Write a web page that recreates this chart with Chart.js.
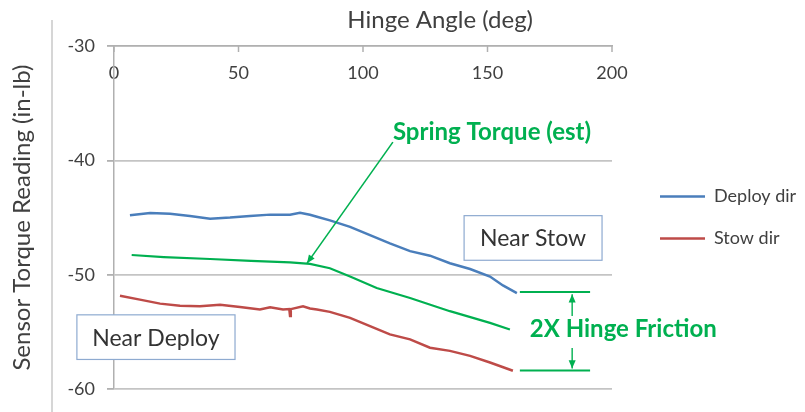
<!DOCTYPE html>
<html>
<head>
<meta charset="utf-8">
<script src="https://cdn.jsdelivr.net/npm/chart.js@4"></script>
<style>
  html, body { margin: 0; padding: 0; background: #fff; }
  #wrap { width: 805px; height: 412px; }
</style>
</head>
<body>
<div id="wrap"><canvas id="torqueChart"></canvas></div>
<script>
// values
const xTicks = [0, 50, 100, 150, 200];
const yTicks = [-30, -40, -50, -60];

const deployAngle  = [6.4, 14.5, 22.5, 30.5, 38.6, 46.6, 54.6, 62.7, 70.7, 74.7, 78.7, 81.5, 86.7, 94.8, 102.8, 110.8, 118.9, 126.9, 134.9, 143.0, 151.0, 156.2, 161.8];
const deployTorque = [-44.80, -44.60, -44.66, -44.86, -45.09, -45.00, -44.86, -44.74, -44.74, -44.57, -44.75, -44.92, -45.24, -45.81, -46.54, -47.26, -47.93, -48.33, -48.99, -49.49, -50.15, -50.93, -51.60];

const stowAngle  = [2.4, 10.4, 18.5, 26.5, 34.5, 42.6, 50.6, 58.6, 62.7, 67.9, 70.4, 70.7, 71.0, 75.9, 78.7, 81.5, 86.7, 94.8, 102.8, 110.8, 118.9, 126.9, 134.9, 143.0, 151.0, 160.2];
const stowTorque = [-51.83, -52.17, -52.52, -52.70, -52.75, -52.61, -52.81, -53.04, -52.84, -53.04, -53.00, -53.60, -53.00, -52.75, -52.95, -53.04, -53.24, -53.76, -54.48, -55.21, -55.64, -56.37, -56.65, -57.09, -57.67, -58.39];

const springAngle  = [7.1, 20, 38.6, 55, 70.7, 78.7, 86.7, 94.8, 105.5, 118.9, 134.9, 151.0, 159.0];
const springTorque = [-48.27, -48.45, -48.62, -48.78, -48.91, -49.05, -49.43, -50.15, -51.16, -52.03, -53.18, -54.20, -54.78];

const GREEN = '#00b050';
const TEXT = '#404040';
const AXIS = '#b0b0b0';
const FONT = 'Lato, "Open Sans", sans-serif';

function pairs(xs, ys) {
  return xs.map((v, i) => ({ x: v, y: ys[i] }));
}

function arrow(ctx, x1, y1, x2, y2) {
  const a = Math.atan2(y2 - y1, x2 - x1);
  ctx.beginPath();
  ctx.moveTo(x1, y1);
  ctx.lineTo(x2, y2);
  ctx.stroke();
  ctx.beginPath();
  ctx.moveTo(x2, y2);
  ctx.lineTo(x2 - 9 * Math.cos(a - 0.4), y2 - 9 * Math.sin(a - 0.4));
  ctx.lineTo(x2 - 9 * Math.cos(a + 0.4), y2 - 9 * Math.sin(a + 0.4));
  ctx.closePath();
  ctx.fill();
}

function textBox(ctx, px, py, x0, x1, y0, y1, label) {
  const l = px(x0), r = px(x1), t = py(y0), b = py(y1);
  ctx.fillStyle = '#fff';
  ctx.fillRect(l, t, r - l, b - t);
  ctx.strokeStyle = '#8eaad0';
  ctx.lineWidth = 1.2;
  ctx.strokeRect(l, t, r - l, b - t);
  ctx.fillStyle = '#333';
  ctx.font = '23px ' + FONT;
  ctx.textAlign = 'center';
  ctx.textBaseline = 'middle';
  ctx.fillText(label, (l + r) / 2, (t + b) / 2 + 1);
}

// callouts, boxes and the axis title, placed in data units
const notes = {
  id: 'notes',
  afterDatasetsDraw(chart) {
    const { ctx, chartArea } = chart;
    const xs = chart.scales.x, ys = chart.scales.y;
    const px = v => xs.getPixelForValue(v);
    const py = v => ys.getPixelForValue(v);
    ctx.save();

    // faint frame line on the far left
    ctx.strokeStyle = '#d6d6d6';
    ctx.lineWidth = 2;
    ctx.beginPath();
    ctx.moveTo(chartArea.left - 62, 20);
    ctx.lineTo(chartArea.left - 62, chart.height);
    ctx.stroke();

    // small tick marks hanging below the top axis
    ctx.strokeStyle = AXIS;
    ctx.lineWidth = 1.5;
    xTicks.forEach(v => {
      ctx.beginPath();
      ctx.moveTo(px(v), chartArea.top);
      ctx.lineTo(px(v), chartArea.top + 6);
      ctx.stroke();
    });

    // axis title
    ctx.fillStyle = TEXT;
    ctx.font = '24px ' + FONT;
    ctx.textAlign = 'center';
    ctx.textBaseline = 'middle';
    ctx.fillText('Hinge Angle (deg)', px(131), chartArea.top - 26);

    textBox(ctx, px, py, 140.6, 196, -44.83, -48.73, 'Near Stow');
    textBox(ctx, px, py, -14.9, 48.6, -53.5, -57.4, 'Near Deploy');

    ctx.strokeStyle = GREEN;
    ctx.fillStyle = GREEN;
    ctx.lineWidth = 1.6;
    arrow(ctx, px(112), py(-38.4), px(77.5), py(-49.0));

    ctx.lineWidth = 2;
    [-51.5, -58.36].forEach(v => {
      ctx.beginPath();
      ctx.moveTo(px(163), py(v));
      ctx.lineTo(px(191.2), py(v));
      ctx.stroke();
    });
    ctx.lineWidth = 1.4;
    arrow(ctx, px(184), py(-53.6), px(184), py(-51.7));
    arrow(ctx, px(184), py(-56.4), px(184), py(-58.2));

    ctx.font = 'bold 24px ' + FONT;
    ctx.textAlign = 'center';
    ctx.fillText('Spring Torque (est)', px(151.8), py(-37.55));
    ctx.textAlign = 'left';
    ctx.fillText('2X Hinge Friction', px(167), py(-54.8));

    ctx.restore();
  }
};

new Chart(document.getElementById('torqueChart'), {
  type: 'line',
  data: {
    datasets: [
      {
        label: 'Deploy dir',
        data: pairs(deployAngle, deployTorque),
        borderColor: '#4a7ebb',
        backgroundColor: '#4a7ebb',
        borderWidth: 2.5
      },
      {
        label: 'Stow dir',
        data: pairs(stowAngle, stowTorque),
        borderColor: '#be4b48',
        backgroundColor: '#be4b48',
        borderWidth: 2.5
      },
      {
        label: 'Spring Torque (est)',
        data: pairs(springAngle, springTorque),
        borderColor: GREEN,
        backgroundColor: GREEN,
        borderWidth: 2.2
      }
    ]
  },
  options: {
    responsive: true,
    maintainAspectRatio: false,
    animation: false,
    events: [],
    elements: { point: { radius: 0 }, line: { tension: 0 } },
    layout: { padding: { top: 0, right: 9, bottom: 20, left: 0 } },
    scales: {
      x: {
        type: 'linear',
        position: 'top',
        min: 0,
        max: 200,
        afterBuildTicks: s => { s.ticks = xTicks.map(v => ({ value: v })); },
        afterFit: s => { s.height = 46; },
        ticks: { mirror: true, padding: 16, color: TEXT, font: { family: FONT, size: 18 } },
        grid: { drawOnChartArea: false, drawTicks: false },
        border: { color: AXIS, width: 1.5 }
      },
      y: {
        min: -60,
        max: -30,
        afterBuildTicks: s => { s.ticks = yTicks.map(v => ({ value: v })); },
        afterFit: s => { s.width = 114; },
        ticks: { padding: 12, color: TEXT, font: { family: FONT, size: 18 } },
        grid: { color: '#c4c4c4', lineWidth: 1.8, tickLength: 7, tickColor: AXIS },
        border: { color: AXIS, width: 1.5 },
        title: {
          display: true,
          text: 'Sensor Torque Reading (in-lb)',
          color: TEXT,
          font: { family: FONT, size: 24 },
          padding: { top: 8, bottom: 0 }
        }
      },
      gap: {
        position: 'right',
        display: true,
        ticks: { display: false },
        grid: { display: false },
        border: { display: false },
        afterFit: s => { s.width = 24; }
      }
    },
    plugins: {
      legend: {
        position: 'right',
        fullSize: false,
        maxWidth: 160,
        labels: {
          usePointStyle: true,
          pointStyle: 'line',
          pointStyleWidth: 45,
          padding: 24,
          color: TEXT,
          font: { family: FONT, size: 18 },
          filter: item => item.text !== 'Spring Torque (est)'
        }
      },
      tooltip: { enabled: false }
    }
  },
  plugins: [notes]
});
</script>
</body>
</html>
